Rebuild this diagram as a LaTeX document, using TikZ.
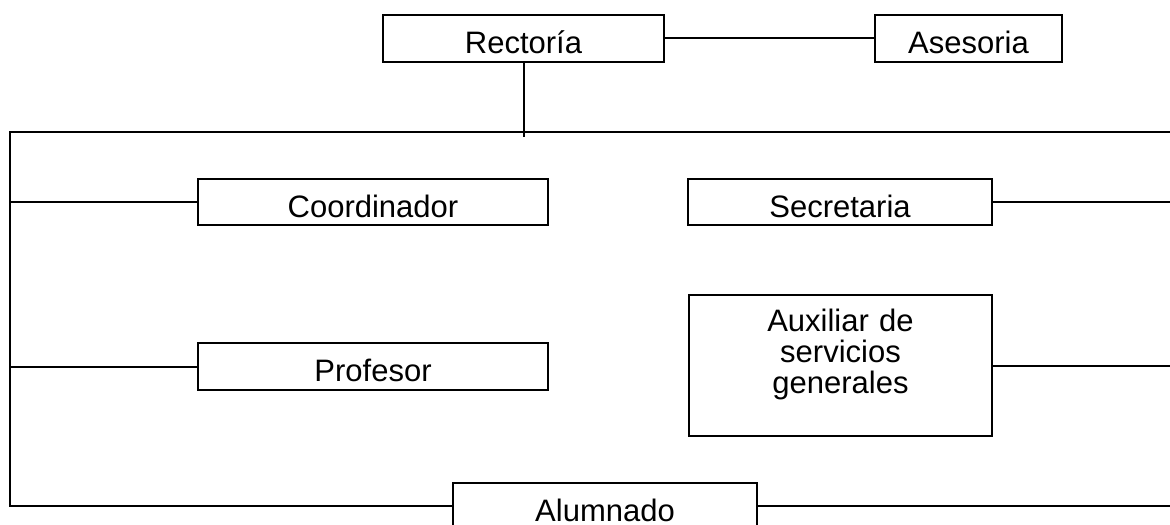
\documentclass[tikz,border=0pt]{standalone}
\usepackage{fontspec}
\setmainfont{Liberation Sans}
\usepackage{tikz}

\begin{document}
\begin{tikzpicture}[x=0.5pt,y=-0.5pt,line width=1pt]
 \tikzstyle{orgbox}=[rectangle,draw=black,inner sep=0pt,
   font=\fontsize{15.5}{14}\selectfont,text height=15.1pt,text depth=0pt]
 \useasboundingbox (0,0) rectangle (1170,524);
 % cajas
 \node (rect) [orgbox,minimum width=140.5pt,minimum height=23.5pt] at (523.5,38.5) {Rector\'ia};
 \node (ases) [orgbox,minimum width=93.5pt,minimum height=23.5pt] at (968.5,38.5) {Asesoria};
 \node (coord) [orgbox,minimum width=175pt,minimum height=23pt] at (373,202) {Coordinador};
 \node (secr) [orgbox,minimum width=152pt,minimum height=23pt] at (840,202) {Secretaria};
 \node (prof) [orgbox,minimum width=175pt,minimum height=23.5pt] at (373,366.5) {Profesor};
 \node (aux) [orgbox,minimum width=151.5pt,minimum height=70.5pt,
   text height=,text depth=45pt,text width=140pt,align=center] at (840.5,365.5)
   {Auxiliar de\\[1.5pt]servicios\\[1.5pt]generales};
 \node (alum) [orgbox,minimum width=152pt,minimum height=23pt] at (605,506) {Alumnado};
 % lineas
 \coordinate (busL) at (10,132);
 \coordinate (busR) at (1170,132);
 \coordinate (stub) at (524,137);
 \draw (rect.east) -- (ases.west);
 \draw (rect.south -| stub) -- (stub);
 \draw (busR) -- (busL) -- (busL |- alum.west) -- (alum.west);
 \draw (coord.west -| busL) -- (coord.west);
 \draw (prof.west -| busL) -- (prof.west);
 \draw (secr.east) -- (secr.east -| busR);
 \draw (aux.east) -- (aux.east -| busR);
 \draw (alum.east) -- (alum.east -| busR);
\end{tikzpicture}
\end{document}
